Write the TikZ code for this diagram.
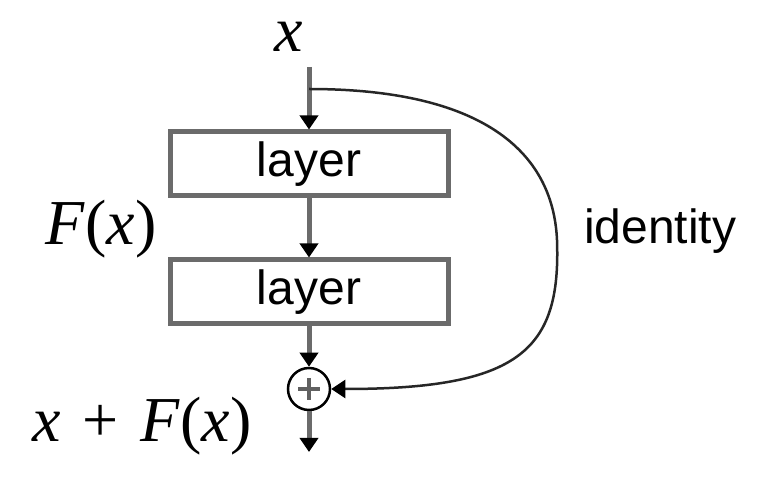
\documentclass[tikz,border=0pt]{standalone}
\usepackage{fontspec}
\setmainfont{Liberation Serif}
\setsansfont{Liberation Sans}
\usetikzlibrary{arrows.meta}
\begin{document}
\begin{tikzpicture}[x=1pt,y=-1pt,
  layerbox/.style={draw=black!58,line width=5pt,minimum width=278pt,minimum height=64pt,inner sep=0pt,font=\sffamily\fontsize{48}{52}\selectfont},
  flow/.style={draw=black!58,line width=5pt,-{Triangle[length=14pt,width=18pt,color=black]}},
  skip/.style={draw=black!85,line width=2.5pt,-{Triangle[length=14pt,width=18pt,color=black]}},
  mathlbl/.style={font=\fontsize{64}{68}\selectfont,inner sep=0pt},
  sumnode/.style={circle,draw=black,line width=2.5pt,minimum size=42pt,inner sep=0pt,
    path picture={\draw[black!62,line width=4pt] ([xshift=-11pt]path picture bounding box.center) -- ([xshift=11pt]path picture bounding box.center);
                  \draw[black!62,line width=4pt] ([yshift=-11pt]path picture bounding box.center) -- ([yshift=11pt]path picture bounding box.center);}}
]
\useasboundingbox (0,0) rectangle (761,478);
\node[mathlbl,anchor=base] (xin) at (289,52) {\textit{x}};
\coordinate (start) at (309,67);
\coordinate (br) at (309,89);
\node[layerbox] (l1) at (309,164) {layer};
\node[layerbox] (l2) at (309,292) {layer};
\node[sumnode] (sum) at (309,389) {};
\coordinate (out) at (309,452);
\coordinate (rt) at (557,240);
\draw[flow] (start) -- (l1.north);
\draw[flow] (l1.south) -- (l2.north);
\draw[flow] (l2.south) -- (sum.north);
\draw[flow] (sum.south) -- (out);
\draw[skip] (br) .. controls (480,89) and (553,150) .. (rt) .. controls (561,350) and (520,389) .. (sum.east);
\node[mathlbl,anchor=base] (fx) at (101,245) {\textit{F}(\textit{x})};
\node[mathlbl,anchor=base] (xfx) at (142,442) {\textit{x}\kern6pt{} + \kern6pt\textit{F}(\textit{x})};
\node[anchor=base west,inner sep=0pt,font=\sffamily\fontsize{48}{52}\selectfont] (id) at (584,244) {identity};
\end{tikzpicture}
\end{document}
